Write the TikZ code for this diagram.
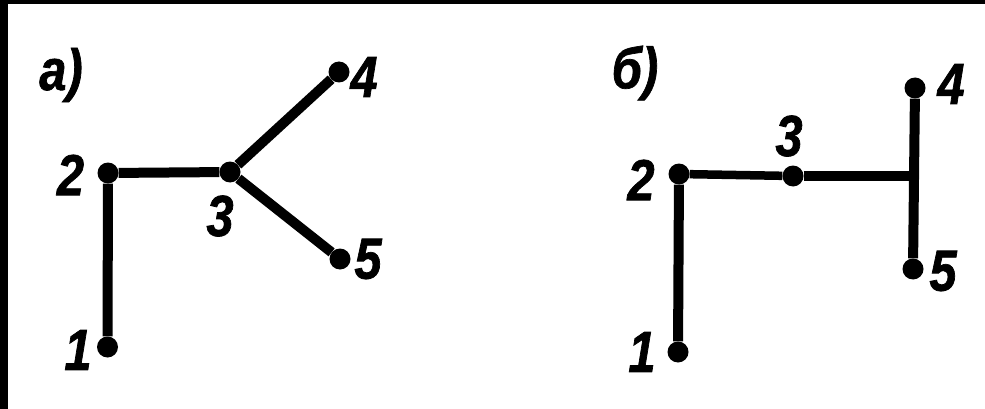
\documentclass[tikz,border=0pt]{standalone}
\usepackage{fontspec}
\setmainfont{Liberation Sans}
\newfontfamily\figfont{Liberation Sans}[FakeStretch=0.84, FakeBold=1.2]
\usepackage{tikz}
\usetikzlibrary{positioning}
\tikzset{
  vertex/.style={circle, fill=black, inner sep=0pt, minimum size=21pt},
  numlabel/.style={font=\figfont\fontsize{58}{62}\selectfont\bfseries\itshape, inner sep=0pt},
  edge/.style={line width=10pt, draw=black},
  thinedge/.style={line width=8.5pt, draw=black}
}

\begin{document}
\begin{tikzpicture}[x=1pt, y=-1pt]
  \useasboundingbox (0,0) rectangle (985,409);
  \fill[black] (0,0) rectangle (8,409);
  \fill[black] (0,0) rectangle (985,4);
  % variant a
  \node[numlabel] (atitle) at (61,75) {а)};
  \node[vertex] (a1) at (107.5,347) {};
  \node[vertex] (a2) at (108,173) {};
  \node[vertex] (a3) at (230,172) {};
  \node[vertex] (a4) at (339,72) {};
  \node[vertex] (a5) at (340,259) {};
  \node[numlabel] (la1) at (78,350) {1};
  \node[numlabel] (la2) at (70.5,175) {2};
  \node[numlabel] (la3) at (220,216) {3};
  \node[numlabel] (la4) at (364,77) {4};
  \node[numlabel] (la5) at (368,259) {5};
  \draw[edge] (a1) -- (a2);
  \draw[edge] (a2) -- (a3);
  \draw[edge] (a3) -- (a4);
  \draw[edge] (a3) -- (a5);
  % variant b
  \node[numlabel] (btitle) at (635,73) {б)};
  \node[vertex] (b1) at (678,352) {};
  \node[vertex] (b2) at (679,174) {};
  \node[vertex] (b3) at (793,176) {};
  \node[vertex] (b4) at (915,88) {};
  \node[vertex] (b5) at (913,269) {};
  \coordinate (bj) at (913,176);
  \node[numlabel] (lb1) at (642,352) {1};
  \node[numlabel] (lb2) at (641,180) {2};
  \node[numlabel] (lb3) at (789,136) {3};
  \node[numlabel] (lb4) at (951,84) {4};
  \node[numlabel] (lb5) at (943,271) {5};
  \draw[edge] (b1) -- (b2);
  \draw[thinedge] (b2) -- (b3);
  \draw[edge] (b3) -- (bj);
  \draw[edge] (b4) -- (b5);
\end{tikzpicture}
\end{document}
